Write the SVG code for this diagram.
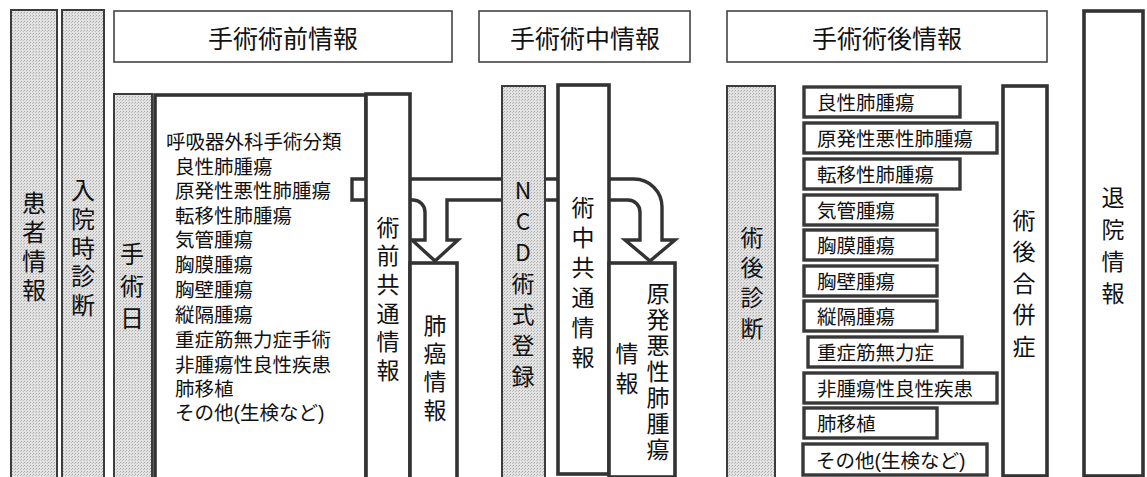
<svg xmlns="http://www.w3.org/2000/svg" width="1147" height="477" viewBox="0 0 1147 477">
<defs>
<pattern id="dots" width="3" height="3" patternUnits="userSpaceOnUse">
<rect width="3" height="3" fill="#e2e2e2"/>
<rect x="0" y="0" width="1" height="1" fill="#a9a9a9"/>
<rect x="2" y="1" width="1" height="1" fill="#bdbdbd"/>
</pattern>
<style>
.gray{fill:url(#dots);stroke:#3c3c3c;stroke-width:2}
.hdr{fill:#fff;stroke:#444;stroke-width:1.6}
.thick{fill:#fff;stroke:#333;stroke-width:3.6}
.item{fill:#fff;stroke:#383838;stroke-width:3.4}
text{font-family:"Noto Sans CJK JP","Noto Sans",sans-serif;fill:#111}
.h{font-size:25px;text-anchor:middle;dominant-baseline:central}
.v{font-size:23px;writing-mode:vertical-rl;text-orientation:upright;text-anchor:start}
.l{font-size:19.5px;font-family:"Liberation Sans","Noto Sans CJK JP",sans-serif;dominant-baseline:central}
.band{fill:#fff;stroke:#333;stroke-width:3.4;stroke-linejoin:miter}
</style>
</defs>
<rect width="1147" height="477" fill="#fff"/>

<g id="patient-info">
<rect class="gray" x="11" y="10" width="46" height="470"/>
<text class="v" x="34" y="191" style="font-size:24px;letter-spacing:5px">患者情報</text>
</g>
<g id="admission-diagnosis">
<rect class="gray" x="62" y="10" width="42" height="470"/>
<text class="v" x="83" y="178" style="font-size:24px;letter-spacing:4.75px">入院時診断</text>
</g>

<g id="header-preop">
<rect class="hdr" x="114" y="11" width="338" height="51"/>
<text class="h" x="283" y="37">手術術前情報</text>
</g>
<g id="header-intraop">
<rect class="hdr" x="479" y="11" width="211" height="51"/>
<text class="h" x="585" y="37">手術術中情報</text>
</g>
<g id="header-postop">
<rect class="hdr" x="727" y="11" width="320" height="51"/>
<text class="h" x="887" y="37">手術術後情報</text>
</g>

<g id="surgery-date">
<rect class="gray" x="114" y="94" width="38" height="386"/>
<text class="v" x="132" y="242" style="font-size:24px;letter-spacing:8px">手術日</text>
</g>

<g id="surgery-classification">
<rect class="thick" x="155" y="95" width="211" height="385"/>
<text class="l" x="166" y="142">呼吸器外科手術分類</text>
<text class="l" x="175" y="166.5">良性肺腫瘍</text>
<text class="l" x="175" y="191">原発性悪性肺腫瘍</text>
<text class="l" x="175" y="215.5">転移性肺腫瘍</text>
<text class="l" x="175" y="240">気管腫瘍</text>
<text class="l" x="175" y="265">胸膜腫瘍</text>
<text class="l" x="175" y="290">胸壁腫瘍</text>
<text class="l" x="175" y="315">縦隔腫瘍</text>
<text class="l" x="175" y="340">重症筋無力症手術</text>
<text class="l" x="175" y="365">非腫瘍性良性疾患</text>
<text class="l" x="175" y="389">肺移植</text>
<text class="l" x="175" y="413">その他(生検など)</text>
</g>

<g id="connectors">
<path class="band" d="M352,179 H634 A28,28 0 0 1 662,207 V240 H675 L650,261 L625,240 H640 V212 A12,12 0 0 0 628,200 H447 V240 H458 L435,261 L412,240 H425 V212 A12,12 0 0 0 413,200 H352 Z"/>
</g>

<g id="preop-common">
<rect class="thick" x="366" y="94" width="44" height="386"/>
<text class="v" x="388" y="215.5" style="letter-spacing:5.6px">術前共通情報</text>
</g>
<g id="lung-cancer-info">
<rect class="thick" x="410" y="263" width="47" height="217"/>
<text class="v" x="435" y="313.5" style="letter-spacing:5.3px">肺癌情報</text>
</g>

<g id="ncd">
<rect class="gray" x="502" y="86" width="43" height="394"/>
<text class="v" x="523" y="178.5" style="letter-spacing:8px">NCD術式登録</text>
</g>
<g id="intraop-common">
<rect class="thick" x="558" y="85" width="51" height="389"/>
<text class="v" x="583" y="195.5" style="letter-spacing:7px">術中共通情報</text>
</g>
<g id="primary-cancer-info">
<rect class="thick" x="609" y="263" width="66" height="214"/>
<text class="v" x="658" y="281.5" style="letter-spacing:3px">原発悪性肺腫瘍</text>
<text class="v" x="627" y="341.5" style="letter-spacing:7px">情報</text>
</g>

<g id="postop-diagnosis">
<rect class="gray" x="727" y="86" width="48" height="394"/>
<text class="v" x="752" y="225.5" style="letter-spacing:7.3px">術後診断</text>
</g>

<g id="dx-benign"><rect class="item" x="804" y="87" width="156" height="30"/><text class="l" x="817" y="103">良性肺腫瘍</text></g>
<g id="dx-primary"><rect class="item" x="804" y="123" width="193" height="30"/><text class="l" x="817" y="139">原発性悪性肺腫瘍</text></g>
<g id="dx-metastatic"><rect class="item" x="804" y="159" width="156" height="30"/><text class="l" x="817" y="175">転移性肺腫瘍</text></g>
<g id="dx-tracheal"><rect class="item" x="804" y="195" width="133" height="30"/><text class="l" x="817" y="211">気管腫瘍</text></g>
<g id="dx-pleural"><rect class="item" x="804" y="230" width="133" height="30"/><text class="l" x="817" y="246">胸膜腫瘍</text></g>
<g id="dx-chestwall"><rect class="item" x="804" y="266" width="133" height="30"/><text class="l" x="817" y="282">胸壁腫瘍</text></g>
<g id="dx-mediastinal"><rect class="item" x="804" y="301" width="133" height="30"/><text class="l" x="817" y="317">縦隔腫瘍</text></g>
<g id="dx-mg"><rect class="item" x="808" y="337" width="154" height="30"/><text class="l" x="817" y="353">重症筋無力症</text></g>
<g id="dx-nonneoplastic"><rect class="item" x="804" y="373" width="193" height="30"/><text class="l" x="817" y="389">非腫瘍性良性疾患</text></g>
<g id="dx-transplant"><rect class="item" x="804" y="408" width="133" height="30"/><text class="l" x="817" y="424">肺移植</text></g>
<g id="dx-other"><rect class="item" x="803" y="444" width="184" height="31"/><text class="l" x="816" y="461">その他(生検など)</text></g>

<g id="postop-complications">
<rect class="thick" x="1003" y="86" width="44" height="390"/>
<text class="v" x="1024" y="208.5" style="letter-spacing:8.5px">術後合併症</text>
</g>
<g id="discharge-info">
<rect class="thick" x="1084" y="11" width="59" height="465"/>
<text class="v" x="1113" y="185.5" style="letter-spacing:9px">退院情報</text>
</g>
</svg>
